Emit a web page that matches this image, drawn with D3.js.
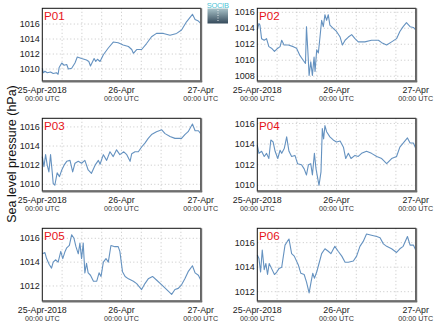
<!DOCTYPE html>
<html><head><meta charset="utf-8">
<script src="https://cdn.jsdelivr.net/npm/d3@7/dist/d3.min.js"></script>
<style>html,body{margin:0;padding:0;background:#fff;}svg{display:block;font-family:"Liberation Sans",Arial,sans-serif;}</style>
</head><body>
<svg id="chart" width="435" height="327"></svg>
<script>
// ---- data (hours since 25-Apr-2018 00:00 UTC, hPa) ----
const panelNames = ["P01","P02","P03","P04","P05","P06"];
const xTickHours = [0, 24, 48];
const xTickLabels = ["25-Apr-2018", "26-Apr", "27-Apr"];
const xTickSub = "00:00 UTC";
const yLabel = "Sea level pressure (hPa)";
const yDomains = [[1008.4,1018.1],[1007.4,1016.5],[1009.3,1016.9],[1009.45,1016.5],[1010.74,1016.84],[1011.24,1017.17]];
const yTicks = [[1010,1012,1014,1016],[1008,1010,1012,1014,1016],[1010,1012,1014,1016],[1010,1012,1014,1016],[1012,1014,1016],[1012,1014,1016]];

const P01 = [[0,1010.1],[0.3,1009.5],[0.8,1009.7],[1.5,1009.5],[2.5,1009.6],[3.3,1009.4],[4.3,1009.5],[4.8,1009.3],[5.1,1010.2],[5.9,1010.8],[6.6,1010.5],[7.4,1010.6],[7.9,1010.0],[8.9,1010.1],[9.9,1010.8],[10.6,1011.6],[11.9,1011.4],[13.4,1011.2],[14.1,1011.0],[14.6,1010.4],[15.7,1011.4],[16.2,1011.0],[16.7,1011.3],[17.5,1011.0],[18.5,1011.9],[20.0,1012.8],[21.5,1013.6],[23.0,1013.5],[24.5,1013.2],[26.1,1013.0],[27.1,1012.6],[27.6,1012.1],[28.6,1012.6],[30.1,1012.6],[31.6,1013.4],[33.1,1014.3],[34.6,1014.75],[36.7,1014.75],[38.7,1014.5],[40.7,1014.75],[42.2,1015.2],[43.7,1016.3],[45.5,1017.3],[46.3,1016.6],[47.3,1016.4],[48,1016.1]];
const P02 = [[0,1013.8],[0.5,1014.6],[0.8,1014.4],[1.3,1012.7],[2.1,1012.5],[2.8,1012.7],[3.5,1011.7],[4.3,1011.5],[5.2,1011.1],[5.9,1011.4],[6.9,1011.7],[7.4,1012.5],[8.1,1011.9],[9.4,1011.9],[10.9,1011.7],[11.9,1011.5],[12.9,1010.6],[13.9,1010.0],[14.6,1009.6],[14.9,1014.2],[15.3,1011.3],[15.7,1008.1],[16.2,1009.8],[16.7,1008.1],[17.2,1010.4],[17.5,1008.6],[18.0,1011.3],[18.5,1010.9],[19.0,1012.9],[19.5,1015.0],[20.0,1014.2],[20.5,1015.7],[21.0,1015.0],[21.5,1015.7],[22.0,1014.4],[23.0,1014.0],[24.0,1013.6],[25.1,1012.9],[25.8,1011.9],[26.6,1012.5],[27.6,1012.9],[28.6,1013.2],[29.6,1012.7],[30.6,1012.3],[32.6,1012.3],[34.6,1012.5],[36.7,1012.5],[37.7,1012.2],[39.2,1011.9],[40.7,1012.3],[42.2,1012.7],[43.2,1013.6],[44.2,1014.2],[45.2,1014.7],[46.3,1014.2],[47.3,1014.1],[48,1013.8]];
const P03 = [[0,1012.9],[0.5,1011.85],[1.0,1013.1],[1.5,1012.0],[2.0,1011.3],[2.5,1013.1],[3.0,1011.3],[3.3,1010.1],[3.8,1009.9],[4.5,1011.2],[5.2,1010.8],[5.9,1011.5],[6.6,1012.0],[7.4,1012.4],[8.4,1012.5],[9.2,1011.3],[9.9,1012.2],[10.9,1012.4],[11.9,1012.2],[12.9,1012.5],[13.9,1011.5],[14.9,1011.15],[16.0,1012.0],[17.0,1012.5],[17.5,1012.1],[18.5,1013.1],[19.5,1012.5],[20.5,1013.4],[21.5,1012.9],[22.5,1013.6],[23.5,1013.1],[24.7,1013.4],[25.6,1013.1],[26.6,1012.4],[27.1,1013.2],[28.1,1013.4],[29.1,1013.4],[30.1,1013.9],[31.1,1014.3],[32.1,1014.8],[33.1,1015.2],[34.6,1015.5],[36.2,1015.7],[37.2,1015.3],[38.7,1015.0],[40.2,1014.8],[42.2,1014.8],[43.2,1015.2],[44.2,1015.5],[45.5,1016.3],[46.3,1015.6],[47.3,1015.6],[48,1015.3]];
const P04 = [[0,1013.9],[0.5,1013.1],[1.3,1013.3],[2.1,1012.8],[2.8,1013.1],[3.5,1012.6],[4.1,1014.4],[4.8,1014.2],[5.4,1013.3],[6.2,1012.6],[6.9,1013.4],[7.4,1013.1],[8.2,1013.6],[8.9,1014.7],[9.6,1013.3],[10.4,1012.8],[11.4,1012.9],[12.2,1012.1],[13.4,1012.0],[14.2,1011.6],[14.9,1011.0],[15.5,1012.0],[16.2,1012.1],[16.7,1011.0],[17.3,1013.1],[17.8,1011.6],[18.3,1010.7],[18.7,1010.0],[19.3,1011.3],[19.7,1015.5],[20.1,1014.5],[20.5,1015.8],[21.0,1015.2],[22.0,1014.7],[23.0,1014.4],[24.0,1014.2],[25.1,1014.3],[26.1,1013.7],[26.8,1012.6],[27.6,1013.1],[28.4,1012.6],[29.6,1012.9],[30.6,1012.8],[31.6,1013.1],[33.1,1013.3],[34.6,1013.1],[36.2,1012.8],[37.7,1012.6],[39.2,1012.1],[40.7,1012.6],[42.2,1012.8],[43.2,1013.7],[44.2,1014.1],[45.5,1014.6],[46.3,1014.1],[47.3,1014.1],[48,1013.6]];
const P05 = [[0,1014.7],[0.8,1014.8],[1.3,1014.3],[2.1,1013.8],[2.8,1013.5],[3.3,1014.0],[4.0,1014.2],[4.8,1014.0],[5.6,1014.9],[6.2,1014.3],[6.9,1014.9],[7.4,1015.2],[8.2,1015.4],[8.9,1016.3],[9.6,1016.0],[10.2,1015.3],[10.9,1014.7],[11.4,1015.6],[11.9,1014.3],[12.4,1015.6],[12.9,1013.1],[13.4,1013.9],[13.9,1013.1],[14.6,1012.9],[15.5,1012.4],[16.5,1012.4],[17.2,1013.1],[17.8,1012.8],[18.5,1014.0],[19.3,1014.3],[20.0,1014.0],[20.8,1015.4],[22.0,1015.3],[23.0,1015.3],[23.5,1014.9],[24.3,1013.2],[25.1,1012.8],[26.1,1012.6],[27.6,1012.4],[28.6,1012.2],[30.1,1011.7],[31.1,1012.2],[32.1,1012.6],[33.4,1012.8],[34.6,1012.5],[36.2,1012.1],[37.7,1011.7],[39.2,1011.3],[40.2,1011.7],[41.2,1011.8],[42.2,1012.1],[43.2,1012.6],[44.2,1013.2],[45.5,1013.7],[46.3,1013.1],[47.3,1012.9],[48,1012.5]];
const P06 = [[0,1015.0],[0.5,1014.7],[1.0,1013.6],[1.5,1015.4],[2.1,1013.8],[2.6,1014.3],[3.1,1013.4],[3.6,1014.3],[4.3,1013.9],[5.2,1013.4],[5.9,1013.6],[6.6,1013.9],[7.4,1014.0],[8.4,1015.8],[9.1,1016.1],[9.6,1016.3],[10.4,1015.1],[11.2,1014.9],[12.4,1014.2],[13.2,1013.5],[14.2,1013.4],[14.9,1012.8],[15.7,1011.9],[16.3,1012.8],[16.8,1013.5],[17.3,1013.1],[18.0,1013.6],[18.7,1014.3],[19.5,1015.1],[20.5,1015.5],[21.5,1015.3],[22.3,1015.1],[23.5,1015.7],[24.5,1015.3],[25.6,1014.9],[26.6,1014.4],[27.6,1014.4],[29.1,1014.5],[30.1,1014.9],[31.1,1015.7],[32.1,1016.1],[33.1,1016.7],[34.6,1016.6],[36.2,1016.5],[37.2,1016.4],[38.2,1015.9],[39.2,1015.7],[40.7,1015.5],[42.2,1015.2],[43.2,1015.5],[44.2,1015.7],[45.5,1016.5],[46.3,1015.8],[47.3,1015.8],[48,1015.4]];
const series = [P01, P02, P03, P04, P05, P06];

// ---- layout ----
const START = Date.UTC(2018, 3, 25, 0, 0);
const toDate = h => new Date(START + h * 3600e3);
const colX = [42.3, 257.3], rowY = [8.3, 118.3, 228.3];
const pw = 158.4, ph = 72.7;
const lineColor = "#6592c0";

const svg = d3.select("#chart");

panelNames.forEach((name, i) => {
  const x0 = colX[i % 2], y0 = rowY[Math.floor(i / 2)];
  const g = svg.append("g").attr("transform", `translate(${x0},${y0})`);
  const x = d3.scaleUtc().domain([toDate(0), toDate(48)]).range([0, pw]);
  const y = d3.scaleLinear().domain(yDomains[i]).range([ph, 0]);

  // grid
  const gridHours = d3.range(6, 48, 6);
  g.selectAll(".vg").data(gridHours).join("line")
    .attr("x1", d => x(toDate(d))).attr("x2", d => x(toDate(d)))
    .attr("y1", 0).attr("y2", ph)
    .attr("stroke", "#b8b8b8").attr("stroke-width", 0.8).attr("stroke-dasharray", "1 2.5");
  g.selectAll(".hg").data(yTicks[i]).join("line")
    .attr("x1", 0).attr("x2", pw)
    .attr("y1", d => y(d)).attr("y2", d => y(d))
    .attr("stroke", "#b8b8b8").attr("stroke-width", 0.8).attr("stroke-dasharray", "1 2.5");

  // line
  const line = d3.line().x(d => x(toDate(d[0]))).y(d => y(d[1]));
  g.append("path").datum(series[i]).attr("d", line)
    .attr("fill", "none").attr("stroke", lineColor).attr("stroke-width", 1.1)
    .attr("stroke-linejoin", "round");

  // frame
  g.append("rect").attr("x", 0).attr("y", 0).attr("width", pw).attr("height", ph)
    .attr("fill", "none").attr("stroke", "#111").attr("stroke-width", 1);
  g.append("line").attr("x1", pw + 0.5).attr("x2", pw + 0.5).attr("y1", 0).attr("y2", ph + 1)
    .attr("stroke", "#6e6e6e").attr("stroke-width", 2);
  g.append("line").attr("x1", 0).attr("x2", pw + 1.5).attr("y1", ph + 0.5).attr("y2", ph + 0.5)
    .attr("stroke", "#6e6e6e").attr("stroke-width", 2);

  // y tick labels
  g.selectAll(".yt").data(yTicks[i]).join("text")
    .attr("x", -2.5).attr("y", d => y(d)).attr("dy", "0.35em")
    .attr("text-anchor", "end").attr("font-size", 9).attr("fill", "#222")
    .text(d => d);

  // x tick labels
  xTickHours.forEach((h, k) => {
    const xx = x(toDate(h));
    g.append("text").attr("x", xx).attr("y", ph + 11.8).attr("text-anchor", "middle")
      .attr("font-size", 8.8).attr("fill", "#222").text(xTickLabels[k]);
    g.append("text").attr("x", xx).attr("y", ph + 19.6).attr("text-anchor", "middle")
      .attr("font-size", 7.2).attr("fill", "#333").text(xTickSub);
  });

  // panel name
  g.append("text").attr("x", 1.8).attr("y", 11.3).attr("font-size", 11.6)
    .attr("fill", "#e8141a").text(name);
});

// y axis label
svg.append("text").attr("transform", "translate(15.5,154) rotate(-90)")
  .attr("text-anchor", "middle").attr("font-size", 12.5).attr("fill", "#111").text(yLabel);

// logo
const defs = svg.append("defs");
const grad = defs.append("linearGradient").attr("id", "lg").attr("x1", 0).attr("y1", 0).attr("x2", 0).attr("y2", 1);
grad.append("stop").attr("offset", "0%").attr("stop-color", "#a9c3c9");
grad.append("stop").attr("offset", "100%").attr("stop-color", "#34495a");
svg.append("rect").attr("x", 207.5).attr("y", 8.5).attr("width", 20.5).attr("height", 15).attr("fill", "url(#lg)");
svg.append("line").attr("x1", 218).attr("x2", 218).attr("y1", 10).attr("y2", 22)
  .attr("stroke", "#fff").attr("stroke-width", 0.8).attr("stroke-dasharray", "1 1.5");
svg.append("text").attr("x", 217.7).attr("y", 7.8).attr("text-anchor", "middle")
  .attr("font-size", 7.5).attr("fill", "#4cc3d6").attr("letter-spacing", "-0.3").text("SOCIB");
</script>
</body></html>
